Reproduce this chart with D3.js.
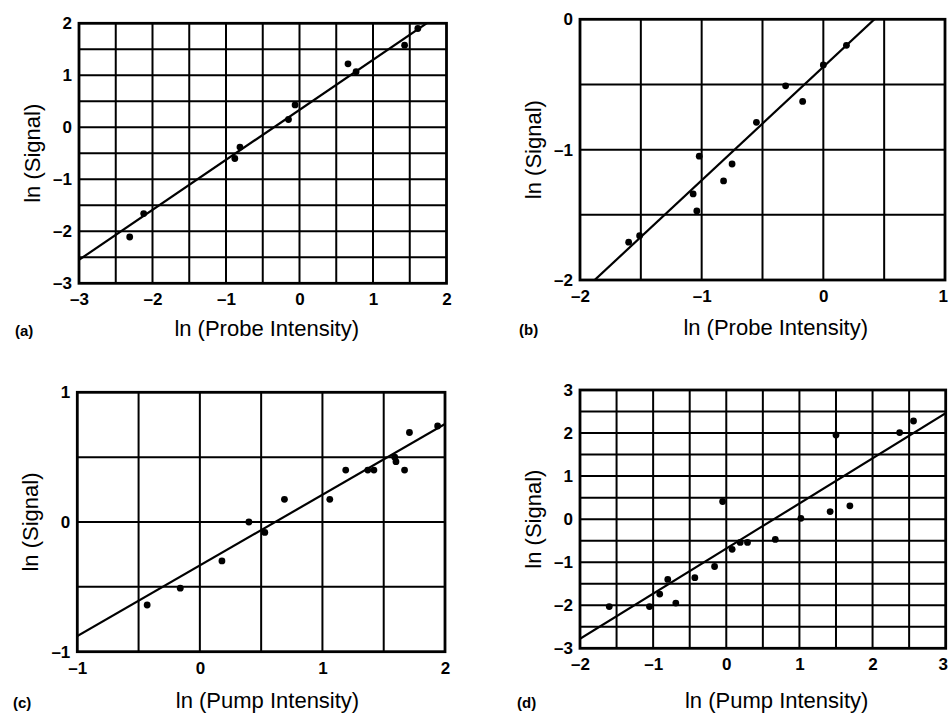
<!DOCTYPE html>
<html>
<head>
<meta charset="utf-8">
<script src="https://cdn.jsdelivr.net/npm/d3@7/dist/d3.min.js"></script>
<style>
  html, body { margin: 0; padding: 0; background: #fff; }
  svg { display: block; }
  .tick text { font-family: "Liberation Sans", Arial, sans-serif; font-size: 17px; font-weight: bold; fill: #000; }
  .title { font-family: "Liberation Sans", Arial, sans-serif; font-size: 22px; fill: #000; }
  .plabel { font-family: "Liberation Sans", Arial, sans-serif; font-size: 15px; font-weight: bold; fill: #000; }
</style>
</head>
<body>
<svg id="chart" width="949" height="717"></svg>
<script>
// (a) signal vs probe intensity
const aProbe  = [-2.31, -2.12, -0.88, -0.81, -0.15, -0.06, 0.66, 0.77, 1.43, 1.61];
const aSignal = [-2.11, -1.66, -0.60, -0.38, 0.15, 0.43, 1.22, 1.07, 1.58, 1.90];
const aFit = { slope: 0.962, intercept: 0.336 };
const aXTicks = [-3, -2, -1, 0, 1, 2];
const aYTicks = [-3, -2, -1, 0, 1, 2];

// (b) signal vs probe intensity
const bProbe  = [-1.60, -1.51, -1.07, -1.04, -1.02, -0.82, -0.75, -0.55, -0.31, -0.17, 0.00, 0.19];
const bSignal = [-1.71, -1.66, -1.34, -1.47, -1.05, -1.24, -1.11, -0.79, -0.51, -0.63, -0.35, -0.20];
const bFit = { slope: 0.87, intercept: -0.365 };
const bXTicks = [-2, -1, 0, 1];
const bYTicks = [-2, -1, 0];

// (c) signal vs pump intensity
const cPump   = [-0.43, -0.16, 0.18, 0.40, 0.53, 0.69, 1.06, 1.19, 1.37, 1.42, 1.59, 1.60, 1.67, 1.71, 1.94];
const cSignal = [-0.64, -0.51, -0.30, 0.00, -0.08, 0.175, 0.175, 0.40, 0.40, 0.40, 0.50, 0.465, 0.40, 0.69, 0.74];
const cFit = { slope: 0.545, intercept: -0.335 };
const cXTicks = [-1, 0, 1, 2];
const cYTicks = [-1, 0, 1];

// (d) signal vs pump intensity
const dPump   = [-1.60, -1.05, -0.91, -0.80, -0.69, -0.43, -0.16, -0.05, 0.08, 0.19, 0.29, 0.67, 1.02, 1.42, 1.50, 1.69, 2.37, 2.56];
const dSignal = [-2.03, -2.03, -1.74, -1.40, -1.95, -1.36, -1.10, 0.41, -0.70, -0.54, -0.54, -0.47, 0.02, 0.175, 1.955, 0.31, 2.01, 2.28];
const dFit = { slope: 1.048, intercept: -0.684 };
const dXTicks = [-2, -1, 0, 1, 2, 3];
const dYTicks = [-3, -2, -1, 0, 1, 2, 3];

const svg = d3.select("#chart");
const W = +svg.attr("width");
const fmt = v => (v < 0 ? "\u2013" + Math.abs(v) : String(v));

const panels = [
  { id: "a", xs: aProbe, ys: aSignal, fit: aFit, xt: aXTicks, yt: aYTicks,
    box: [79, 446.5, 23.3, 283.3], xTitle: "ln (Probe Intensity)", titleX: 266.7, titleY: 336, labelX: 15 },
  { id: "b", xs: bProbe, ys: bSignal, fit: bFit, xt: bXTicks, yt: bYTicks,
    box: [580, 945, 19.3, 280], xTitle: "ln (Probe Intensity)", titleX: 775.7, titleY: 335, labelX: 519 },
  { id: "c", xs: cPump, ys: cSignal, fit: cFit, xt: cXTicks, yt: cYTicks,
    box: [77.3, 445, 392.3, 651.7], xTitle: "ln (Pump Intensity)", titleX: 267.5, titleY: 708, labelX: 13 },
  { id: "d", xs: dPump, ys: dSignal, fit: dFit, xt: dXTicks, yt: dYTicks,
    box: [580, 945.7, 390, 648.3], xTitle: "ln (Pump Intensity)", titleX: 776.7, titleY: 708, labelX: 517 }
];

panels.forEach(p => {
  const [x0, x1, y0, y1] = p.box;
  const xDom = d3.extent(p.xt), yDom = d3.extent(p.yt);
  const x = d3.scaleLinear().domain(xDom).range([x0, x1]);
  const y = d3.scaleLinear().domain(yDom).range([y1, y0]);
  const g = svg.append("g");

  // half-unit grid
  const gx = d3.range(xDom[0] + 0.5, xDom[1] - 0.25, 0.5);
  const gy = d3.range(yDom[0] + 0.5, yDom[1] - 0.25, 0.5);
  g.selectAll(".gx").data(gx).join("line")
    .attr("x1", d => x(d)).attr("x2", d => x(d)).attr("y1", y0).attr("y2", y1)
    .attr("stroke", "#000").attr("stroke-width", 2);
  g.selectAll(".gy").data(gy).join("line")
    .attr("y1", d => y(d)).attr("y2", d => y(d)).attr("x1", x0).attr("x2", x1)
    .attr("stroke", "#000").attr("stroke-width", 2);

  // frame
  g.append("rect").attr("x", x0).attr("y", y0).attr("width", x1 - x0).attr("height", y1 - y0)
    .attr("fill", "none").attr("stroke", "#000").attr("stroke-width", 2.8);

  // least-squares line, clipped to the frame
  g.append("clipPath").attr("id", "clip-" + p.id)
    .append("rect").attr("x", x0).attr("y", y0).attr("width", x1 - x0).attr("height", y1 - y0);
  const f = v => p.fit.slope * v + p.fit.intercept;
  g.append("path")
    .attr("clip-path", "url(#clip-" + p.id + ")")
    .attr("d", d3.line().x(d => x(d)).y(d => y(f(d)))(xDom))
    .attr("fill", "none").attr("stroke", "#000").attr("stroke-width", 2.2);

  // data points
  g.selectAll(".pt").data(p.xs.map((v, i) => [v, p.ys[i]])).join("circle")
    .attr("cx", d => x(d[0])).attr("cy", d => y(d[1])).attr("r", 3.4).attr("fill", "#000");

  // axes (labels only)
  const ax = g.append("g").attr("transform", `translate(0,${y1})`)
    .call(d3.axisBottom(x).tickValues(p.xt).tickFormat(fmt).tickSize(0).tickPadding(10));
  ax.select(".domain").remove();
  // keep a label at the page edge inside the page
  ax.selectAll(".tick text").each(function () {
    const bb = this.getBBox();
    const tx = +this.parentNode.getAttribute("transform").match(/translate\(([-\d.]+)/)[1];
    const over = tx + bb.x + bb.width - (W - 1);
    if (over > 0) d3.select(this).attr("dx", -over);
  });
  const ay = g.append("g").attr("transform", `translate(${x0},0)`)
    .call(d3.axisLeft(y).tickValues(p.yt).tickFormat(fmt).tickSize(0).tickPadding(7));
  ay.select(".domain").remove();

  // titles
  g.append("text").attr("class", "title").attr("x", p.titleX).attr("y", p.titleY)
    .attr("text-anchor", "middle").text(p.xTitle);
  g.append("text").attr("class", "title")
    .attr("transform", `translate(${x0 - 39},${(y0 + y1) / 2}) rotate(-90)`)
    .attr("text-anchor", "middle").text("ln (Signal)");
  g.append("text").attr("class", "plabel").attr("x", p.labelX).attr("y", p.titleY).text(`(${p.id})`);
});
</script>
</body>
</html>
